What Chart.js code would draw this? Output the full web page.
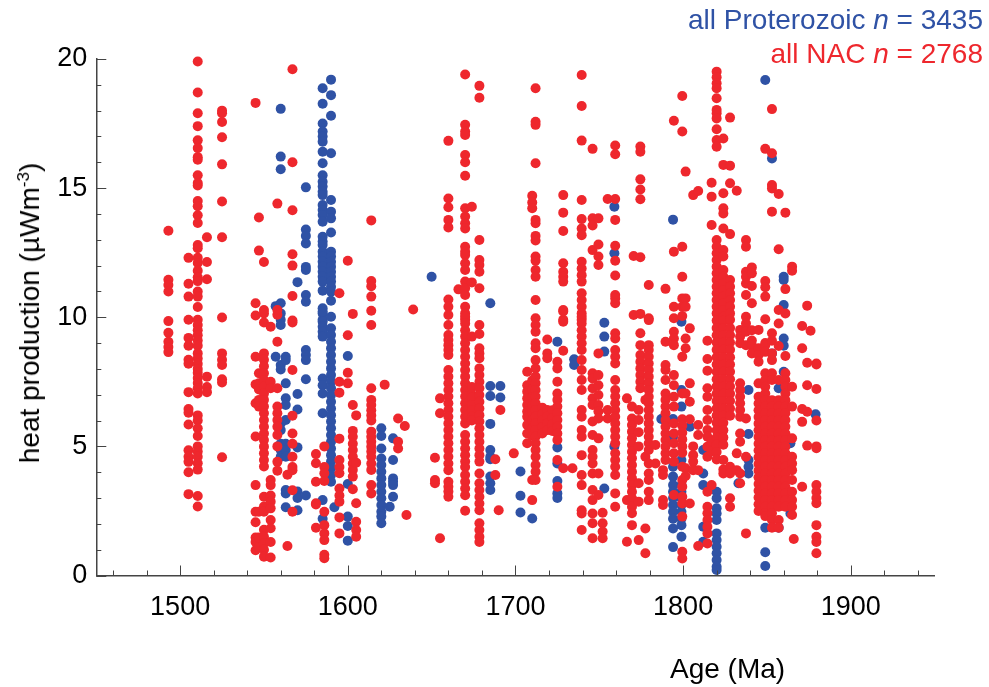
<!DOCTYPE html>
<html>
<head>
<meta charset="utf-8">
<title>Heat production vs age</title>
<script src="https://cdn.jsdelivr.net/npm/chart.js@4/dist/chart.umd.min.js"></script>
<style>
html, body { margin: 0; padding: 0; background: #fff; }
#wrap { position: relative; width: 989px; height: 687px; font-family: "Liberation Sans", Arial, sans-serif; overflow: hidden; }
canvas { position: absolute; left: 0; top: 0; }
.label { position: absolute; white-space: nowrap; line-height: 1; }
#legend-blue { right: 6px; top: 6px; font-size: 28px; color: #2f52a5; }
#legend-red { right: 6px; top: 40px; font-size: 28px; color: #ee272d; }
#x-title { left: 670px; top: 655px; font-size: 28px; color: #000; }
#y-title { left: 30px; top: 313px; font-size: 28px; color: #000; transform: translate(-50%, -50%) rotate(-90deg); }
#y-title sup { font-size: 17px; line-height: 0; }
</style>
</head>
<body>
<div id="wrap">
  <canvas id="chart" width="989" height="687"></canvas>
  <div class="label" id="legend-blue">all Proterozoic <i>n</i> = 3435</div>
  <div class="label" id="legend-red">all NAC <i>n</i> = 2768</div>
  <div class="label" id="x-title">Age (Ma)</div>
  <div class="label" id="y-title">heat production (&micro;Wm<sup>-3</sup>)</div>
</div>
<script>
const xTicks = [1500, 1600, 1700, 1800, 1900];
const xMinorTicks = [1460, 1480, 1520, 1540, 1560, 1580, 1620, 1640, 1660, 1680, 1720, 1740, 1760, 1780, 1820, 1840, 1860, 1880, 1920, 1940];
const yTicks = [0, 5, 10, 15, 20];
const yMinorTicks = [1, 2, 3, 4, 6, 7, 8, 9, 11, 12, 13, 14, 16, 17, 18, 19];

// one age per column of dots
const blueAges = [1557, 1560, 1563, 1570, 1575, 1585, 1590, 1592, 1600, 1620, 1627, 1625, 1650, 1685, 1691, 1703, 1710, 1725, 1735, 1753, 1759, 1794, 1799, 1787, 1804, 1812, 1820, 1839, 1833, 1849, 1853, 1857, 1860, 1864, 1879];
const blueHeat = [
  [10.43, 8.47],
  [18.07, 16.22, 15.73, 10.54, 10.15, 9.9, 9.7, 8.15, 7.98, 5.89, 5.63, 5.1, 4.86, 4.6],
  [8.47, 8.34, 7.44, 6.86, 6.6, 6.02, 5.1, 4.86, 4.6, 3.31, 3.18, 2.64],
  [11.36, 7.03, 6.43, 4.96, 3.25, 3.0, 2.53],
  [15.03, 13.4, 13.15, 12.86, 11.95, 11.83, 10.86, 10.6, 8.73, 8.54, 8.34, 7.6, 3.1],
  [18.87, 18.27, 17.5, 17.19, 17.0, 16.8, 16.41, 15.96, 15.5, 15.25, 15.06, 14.86, 14.73, 14.35, 14.15, 13.96, 13.7, 13.12, 12.93, 12.8, 12.54, 12.35, 12.15, 11.96, 11.76, 11.57, 11.38, 11.03, 10.35, 10.15, 9.9, 10.22, 9.83, 9.63, 9.44, 9.25, 7.63, 7.37, 7.05, 6.28, 2.92, 2.2],
  [19.2, 18.6, 17.8, 16.35, 14.54, 14.09, 13.83, 13.28, 12.54, 12.35, 12.15, 11.96, 11.76, 11.57, 11.38, 11.18, 10.99, 10.64, 10.02, 9.57, 9.31, 9.05, 8.8, 8.54, 8.28, 8.02, 7.76, 7.5, 7.25, 6.99, 6.73, 6.47, 6.21, 5.96, 5.7, 5.44, 5.18, 4.92, 4.66, 4.41, 4.15, 3.89, 3.63],
  [2.64],
  [8.5, 3.54, 2.28, 1.92, 1.35],
  [5.7, 5.4, 4.92, 4.53, 4.28, 4.02, 3.76, 3.5, 3.24, 2.99, 2.73, 2.47, 2.28, 2.02],
  [5.31, 4.47, 3.76, 3.63, 3.5, 3.05],
  [2.66],
  [11.57],
  [10.54, 7.34, 6.95, 5.87, 4.86, 4.6, 4.5, 3.83, 3.57, 3.31],
  [7.34, 6.89],
  [4.03, 3.09, 2.44],
  [2.21],
  [9.05, 4.96, 4.34, 3.66, 3.18, 3.0],
  [8.37, 8.15],
  [9.79, 9.25, 8.67, 3.37],
  [14.28, 12.48, 5.0],
  [13.78, 6.06, 5.37, 4.21, 3.83, 3.5, 3.24, 3.0, 2.73, 2.47, 2.2, 1.82, 1.1],
  [9.83, 7.18, 6.54, 4.47, 3.5, 3.24, 2.99, 2.73, 2.47, 2.2, 1.95, 1.5],
  [6.06],
  [5.76],
  [4.86, 3.95, 3.5, 1.89, 1.31],
  [3.24, 2.99, 2.6, 2.4, 2.15, 1.63, 1.37, 1.11, 0.86, 0.6, 0.34, 0.21],
  [7.18, 5.48, 4.47, 4.21, 3.95],
  [3.57],
  [19.19, 1.85, 0.9, 0.37],
  [16.15, 8.6],
  [7.25, 1.85],
  [11.57, 11.44, 10.47, 9.18, 8.9, 7.89],
  [5.12, 2.4],
  [6.24]
];

const redAges = [1493, 1505, 1510.5, 1516, 1525, 1545, 1547, 1550, 1554, 1558, 1564, 1567, 1581, 1586, 1595, 1600, 1603, 1605, 1614, 1622, 1630, 1634, 1635, 1639, 1652, 1655, 1660, 1666, 1670, 1674, 1678.5, 1688, 1690, 1691, 1699, 1707, 1710, 1712, 1716, 1719, 1722, 1725, 1728.5, 1734, 1739.5, 1746, 1749.5, 1752, 1755, 1759.5, 1770.5, 1774.5, 1766.5, 1769.5, 1773.5, 1777.5, 1779.5, 1783.5, 1788, 1789.5, 1794.5, 1799.5, 1801.5, 1804, 1806, 1809, 1814.5, 1817, 1820, 1824, 1828, 1832, 1834, 1837.5, 1841, 1845, 1849, 1853, 1857, 1861, 1865, 1866, 1871, 1874, 1876, 1879.5];
const redHeat = [
  [13.35, 11.45, 11.25, 11.0, 9.85, 9.4, 9.05, 8.85, 8.65],
  [12.3, 11.3, 10.8, 9.9, 9.2, 8.9, 8.35, 8.2, 7.1, 6.45, 6.3, 5.85, 4.85, 4.6, 4.4, 4.0, 3.15],
  [19.9, 18.7, 17.9, 17.4, 16.85, 16.55, 16.2, 16.1, 15.5, 15.2, 15.1, 14.5, 14.3, 13.95, 13.65, 12.8, 12.67, 12.3, 12.1, 11.8, 11.55, 11.4, 11.0, 10.8, 10.4, 9.9, 9.7, 9.5, 9.3, 9.1, 8.9, 8.6, 8.4, 8.2, 8.0, 7.85, 7.65, 7.45, 7.25, 7.05, 6.2, 6.0, 5.7, 5.4, 5.0, 4.8, 4.6, 4.35, 4.1, 3.08, 2.67],
  [13.1, 12.14, 11.47, 7.7, 7.3, 7.1],
  [18.0, 17.9, 17.56, 16.97, 15.92, 14.48, 13.1, 9.99, 8.6, 8.35, 8.15, 7.6, 7.47, 4.58],
  [18.3, 10.54, 10.07, 8.47, 7.4, 6.67, 5.38, 3.5, 2.47, 2.06, 1.47, 1.3, 0.98],
  [13.86, 12.58, 7.83, 7.44, 7.2, 6.8, 6.54, 2.47, 1.47, 1.1],
  [12.14, 10.28, 10.15, 9.8, 8.6, 8.35, 8.1, 7.83, 7.57, 7.31, 7.05, 6.8, 6.54, 6.28, 6.02, 5.76, 5.5, 5.25, 4.99, 4.73, 4.47, 4.22, 3.05, 2.67, 2.47, 1.77, 1.5, 1.25, 1.0, 0.73],
  [9.63, 7.5, 7.25, 3.7, 3.5, 3.1, 2.86, 2.6, 2.15, 1.83, 1.3, 0.7],
  [14.4, 10.1, 10.28, 9.05, 7.25, 6.54, 6.28, 6.02, 5.76, 5.44, 5.0, 4.4, 4.06],
  [3.9, 1.14],
  [19.6, 16.0, 14.14, 12.44, 12.0, 10.82, 9.87, 9.8, 7.96, 6.19, 5.5, 5.1, 4.6, 4.2, 4.08, 3.3, 2.47],
  [4.7, 4.35, 3.63, 2.8, 2.75, 1.85],
  [5.0, 4.2, 3.96, 3.66, 2.47, 1.95, 1.63, 1.37, 0.8, 0.67],
  [10.93, 7.5, 7.08, 5.3, 4.47, 4.2, 3.96, 3.37, 3.1, 2.86, 2.25, 1.63],
  [12.19, 9.3, 7.85, 7.44],
  [10.13, 6.6, 5.6, 5.37, 5.1, 4.86, 4.6, 4.34, 4.09, 3.83, 3.34],
  [6.2, 4.37, 2.8, 2.08, 1.76, 1.5],
  [13.75, 11.4, 11.2, 10.8, 10.25, 9.7, 7.25, 6.8, 6.6, 6.4, 6.2, 6.0, 5.57, 5.37, 5.18, 4.99, 4.8, 4.6, 4.34, 4.09, 3.5, 3.18],
  [7.39],
  [6.08, 5.18, 4.92],
  [5.79],
  [2.34],
  [10.3],
  [3.7, 3.57, 4.56],
  [1.44, 6.86, 6.28],
  [16.83, 14.6, 14.26, 13.77, 13.48, 10.69, 10.41, 10.09, 9.7, 9.31, 9.12, 8.92, 8.73, 8.54, 7.96, 7.7, 7.44, 7.18, 6.93, 6.67, 6.41, 6.15, 5.89, 5.63, 5.37, 5.12, 4.86, 4.6, 4.34, 4.08, 3.63, 3.44, 3.25, 3.05],
  [11.08],
  [19.4, 17.45, 17.19, 17.06, 16.28, 16.0, 15.48, 14.22, 13.9, 13.64, 13.44, 12.73, 12.54, 12.41, 12.09, 11.83, 11.38, 11.12, 10.86, 10.41, 10.15, 9.9, 10.02, 9.76, 9.5, 9.25, 8.99, 8.73, 8.47, 8.21, 7.96, 7.7, 7.44, 7.18, 6.93, 6.67, 6.41, 6.15, 5.89, 5.44, 5.18, 4.92, 4.66, 4.41, 4.2, 3.89, 3.63, 3.37, 3.11, 2.51],
  [14.28, 11.35, 9.25, 7.3, 7.0, 6.9, 6.6, 6.4, 6.15, 6.0],
  [18.96, 18.5, 12.99, 12.22, 12.02, 11.76, 11.12, 9.7, 9.35, 8.8, 8.6, 8.41, 8.02, 7.76, 7.5, 7.25, 6.99, 6.73, 6.47, 6.21, 5.96, 5.7, 5.44, 5.18, 4.92, 4.66, 4.41, 3.95, 3.57, 3.31, 3.05, 2.79, 2.53, 2.02, 1.76, 1.5, 1.3],
  [3.89, 4.5],
  [2.53],
  [6.41],
  [4.73],
  [7.89, 7.37, 7.12, 6.86, 6.6, 6.35, 6.15, 5.83, 5.5, 5.12],
  [3.7, 2.92, 14.7, 14.44, 14.22, 7.55, 7.2, 6.9, 6.6, 6.3, 6.0, 5.7, 5.4],
  [18.87, 17.57, 17.45, 15.96, 13.77, 13.64, 13.15, 12.97, 12.35, 12.19, 11.83, 11.57, 10.67, 9.96, 9.7, 9.44, 8.99, 8.8, 8.34, 8.02, 7.7, 7.44, 7.18, 6.93, 6.67, 6.41, 6.15, 5.89, 5.63, 5.37, 5.12, 4.86, 4.6, 4.28, 4.02, 3.7],
  [6.5, 6.25, 6.0, 5.75, 5.5],
  [6.41, 6.15, 5.89, 5.63, 9.14, 8.6, 8.41],
  [6.4, 6.1, 5.85, 5.6],
  [8.28, 8.02, 7.5, 7.05, 6.8, 6.54, 6.28, 6.02, 5.76, 5.5, 5.25, 4.47, 3.44],
  [14.73, 14.05, 13.34, 12.09, 11.76, 11.57, 11.38, 10.28, 9.9, 10.22, 9.83, 8.7, 4.15],
  [4.15],
  [19.38, 18.18, 16.84, 14.54, 13.8, 13.44, 13.18, 12.15, 11.89, 11.63, 11.38, 10.93, 10.67, 10.41, 10.15, 9.9, 10.02, 9.76, 9.5, 9.25, 8.99, 8.73, 8.34, 7.96, 7.57, 7.18, 6.41, 6.15, 5.63, 5.37, 4.66, 3.89, 3.5, 2.53, 2.4, 1.76],
  [16.52, 13.83, 13.55, 12.6, 7.83, 7.63, 7.25, 6.86, 6.6, 5.96, 5.44, 4.86, 4.6, 4.34, 3.95, 3.31, 2.92, 2.4, 2.02, 1.44],
  [13.83, 12.82, 12.35, 12.02, 8.6, 7.76, 7.37, 6.99, 6.6, 6.35, 6.08, 5.31, 3.95, 3.12],
  [2.43, 2.02, 1.7, 1.44],
  [14.58, 6.41, 6.08],
  [16.65, 16.31, 14.58, 13.77, 12.77, 12.19, 11.62, 10.86, 10.73, 10.54, 9.38, 9.18, 8.73, 8.47, 8.21, 7.57, 7.18, 6.93, 6.67, 6.41, 6.15, 5.89, 5.63, 5.37, 5.12, 4.73, 4.47, 4.21, 3.89, 3.18, 2.66],
  [12.37, 10.09],
  [16.61, 16.41, 15.34, 14.95, 14.57, 12.32, 10.13, 9.38, 8.92, 8.54, 8.28, 8.02, 7.76, 7.5, 7.25],
  [6.86, 2.92, 1.31],
  [6.54, 6.08, 5.83, 5.57, 5.31, 5.05, 4.79, 4.54, 4.28, 4.02, 3.76, 3.5, 3.24, 2.99, 2.66, 2.41, 1.95],
  [6.41, 6.02, 5.55, 5.0, 3.57, 2.86, 1.37],
  [1.82, 0.86, 6.8, 4.6],
  [11.25, 9.96, 9.89, 8.92, 8.73, 8.47, 8.21, 7.96, 7.7, 7.44, 7.18, 6.92, 6.67, 6.41, 6.15, 5.89, 5.63, 5.37, 5.12, 4.86, 4.34, 3.95, 3.7, 3.24, 2.92],
  [5.05, 4.34],
  [4.08, 3.89, 2.92, 2.73],
  [11.1, 9.05, 8.15, 7.96, 7.57, 7.05, 6.8, 6.54, 6.28, 6.02, 5.76, 5.5, 5.25, 4.99, 4.73, 4.47],
  [17.61, 12.54, 10.41, 9.96, 9.44, 9.18, 8.92, 7.76, 7.37, 6.92, 6.54, 5.89, 5.5, 5.12, 4.73, 4.41, 3.12],
  [18.57, 17.19, 12.73, 11.57, 10.73, 10.41, 10.05, 8.47, 7.05, 6.05, 5.8, 5.53, 5.27, 5.0, 4.75, 4.21, 3.7, 3.44, 3.05, 2.79, 2.28, 0.92, 0.66],
  [15.64, 10.73, 10.41, 9.18, 8.8, 7.05, 4.15, 3.85],
  [6.05, 2.79, 9.57, 7.44, 6.73],
  [14.73, 5.0, 4.66, 4.41, 4.08],
  [14.89, 5.44, 1.14, 5.83, 4.08],
  [9.09, 8.38, 7.93, 7.25, 6.92, 6.41, 6.02, 5.63, 5.37, 4.99, 4.6, 3.24, 2.66, 2.41, 2.15, 1.89, 1.63, 1.24],
  [15.21, 14.67, 13.57, 3.5, 5.2, 4.8],
  [19.51, 19.29, 19.06, 18.87, 18.48, 18.03, 17.9, 17.7, 17.28, 16.86, 16.6, 12.99, 12.73, 12.48, 12.22, 11.96, 11.7, 11.44, 11.18, 10.93, 10.67, 10.41, 10.15, 9.87, 9.58, 9.3, 9.02, 8.74, 8.45, 8.17, 7.89, 7.6, 7.32, 7.04, 6.76, 6.47, 6.19, 5.91, 5.62, 5.34, 5.06, 4.78, 4.49],
  [15.9, 14.8, 14.22, 14.02, 13.44, 16.92, 12.6, 12.35, 11.83, 11.57, 11.31, 11.05, 10.8, 10.54, 10.28, 10.02, 9.87, 9.58, 9.3, 9.02, 8.74, 8.45, 8.17, 7.89, 7.6, 7.32, 7.04, 6.76, 6.47, 6.19, 5.91, 5.62, 5.34, 5.06, 4.47, 4.1, 3.95],
  [17.73, 15.19, 13.22, 15.87, 11.44, 11.18, 10.93, 10.67, 10.41, 10.15, 9.9, 9.58, 9.3, 9.02, 8.74, 8.45, 8.17, 7.89, 7.6, 7.32, 7.04, 6.76, 6.47, 6.19, 4.21, 3.95, 2.99, 2.66],
  [14.9, 4.73, 4.08],
  [9.51, 9.25, 8.99, 7.44, 7.18, 6.92, 6.67, 6.41, 6.15, 5.5, 5.18, 3.95, 3.57],
  [12.99, 12.73, 11.76, 11.57, 11.31, 10.86, 10.02, 9.76, 9.44, 8.92, 6.08, 4.6, 1.63],
  [11.93, 11.7, 11.21, 10.54, 9.5, 9.1, 8.9, 8.6],
  [9.51, 8.8, 8.54, 8.28, 7.44, 6.92, 6.66, 6.4, 6.14, 5.88, 5.62, 5.36, 5.1, 4.84, 4.58, 4.32, 4.06, 3.8, 3.54, 3.28, 3.02, 2.76, 2.5],
  [16.52, 11.4, 11.16, 10.8, 9.92, 9.0, 8.92, 8.66, 7.83, 7.57, 7.31, 7.05, 6.79, 6.54, 6.28, 6.02, 5.76, 5.5, 5.24, 4.99, 4.73, 4.47, 4.21, 3.95, 3.7, 3.44, 3.18, 2.92, 2.66, 2.41, 2.3],
  [18.06, 16.35, 15.12, 14.99, 14.09, 9.38, 9.09, 8.6, 8.34, 7.83, 7.57, 6.79, 6.54, 6.28, 6.02, 5.76, 5.5, 5.24, 4.99, 4.73, 4.47, 4.21, 3.95, 3.7, 3.44, 3.18, 2.92, 2.66, 2.41, 2.15, 1.85],
  [14.77, 12.63, 10.28, 9.76, 8.89, 7.57, 6.79, 6.54, 6.28, 6.02, 5.76, 5.5, 5.24, 4.99, 4.73, 4.47, 4.21, 3.95, 3.7, 3.44, 3.18, 2.92, 2.66, 2.15, 1.85],
  [14.05, 10.15, 11.09, 8.5, 7.83, 7.57, 7.31, 7.05, 6.79, 6.54, 6.28, 6.02, 5.76, 5.5, 5.24, 4.99, 4.73, 4.47, 4.21, 3.95, 3.7, 3.44, 3.18, 2.92, 2.66],
  [11.96, 11.8, 7.31, 6.54, 5.31, 4.6, 4.34, 4.08, 3.7, 3.24, 2.92, 2.66, 2.34],
  [1.41],
  [9.66, 8.8, 6.45, 5.95, 3.44],
  [10.45, 7.37, 6.34, 5.03, 8.24],
  [9.48],
  [8.21, 8.17, 7.22, 6.0, 5.0, 4.93, 3.5, 3.24, 3.0, 2.8, 1.95, 1.5, 1.3, 0.86]
];

function toPoints(ages, heat) {
  return ages.flatMap((age, i) => heat[i].map(v => ({ x: age, y: v })));
}

// ticks point inwards, long on the labelled values and short between
function drawTicks(ctx, scale, values, len, horizontal) {
  values.forEach(v => {
    const p = Math.round(scale.getPixelForValue(v)) + 0.5;
    ctx.beginPath();
    if (horizontal) {
      ctx.moveTo(p, scale.top);
      ctx.lineTo(p, scale.top - len);
    } else {
      ctx.moveTo(scale.right, p);
      ctx.lineTo(scale.right + len, p);
    }
    ctx.stroke();
  });
}

const insideTicks = {
  id: 'insideTicks',
  afterDraw(chart) {
    const ctx = chart.ctx;
    ctx.save();
    ctx.strokeStyle = '#444';
    ctx.lineWidth = 1;
    drawTicks(ctx, chart.scales.x, xTicks, 10, true);
    drawTicks(ctx, chart.scales.x, xMinorTicks, 5, true);
    drawTicks(ctx, chart.scales.y, yTicks, 10, false);
    drawTicks(ctx, chart.scales.y, yMinorTicks, 5, false);
    ctx.restore();
  }
};

const tickFont = { family: '"Liberation Sans", Arial, sans-serif', size: 27 };

new Chart(document.getElementById('chart').getContext('2d'), {
  type: 'scatter',
  data: {
    datasets: [
      { label: 'all NAC', data: toPoints(redAges, redHeat), backgroundColor: '#ee272d', borderWidth: 0, pointRadius: 5, clip: false },
      { label: 'all Proterozoic', data: toPoints(blueAges, blueHeat), backgroundColor: '#2f52a5', borderWidth: 0, pointRadius: 5, clip: false }
    ]
  },
  options: {
    responsive: false,
    animation: false,
    layout: { padding: { left: 0, top: 59, right: 54.4, bottom: 0 } },
    plugins: { legend: { display: false }, tooltip: { enabled: false } },
    scales: {
      x: {
        type: 'linear',
        min: 1450,
        max: 1950,
        afterBuildTicks: s => { s.ticks = xTicks.map(v => ({ value: v })); },
        afterFit: s => { s.height = 111.5; },
        grid: { display: true, drawOnChartArea: false, drawTicks: false },
        border: { color: '#444', width: 1.5 },
        ticks: { color: '#000', font: tickFont, padding: 16, maxRotation: 0, callback: v => String(v) }
      },
      y: {
        type: 'linear',
        min: 0,
        max: 20,
        afterBuildTicks: s => { s.ticks = yTicks.map(v => ({ value: v })); },
        afterFit: s => { s.width = 96.3; },
        grid: { display: true, drawOnChartArea: false, drawTicks: false },
        border: { color: '#444', width: 1.5 },
        ticks: { color: '#000', font: tickFont, padding: 9, callback: v => String(v) }
      }
    }
  },
  plugins: [insideTicks]
});
</script>
</body>
</html>
